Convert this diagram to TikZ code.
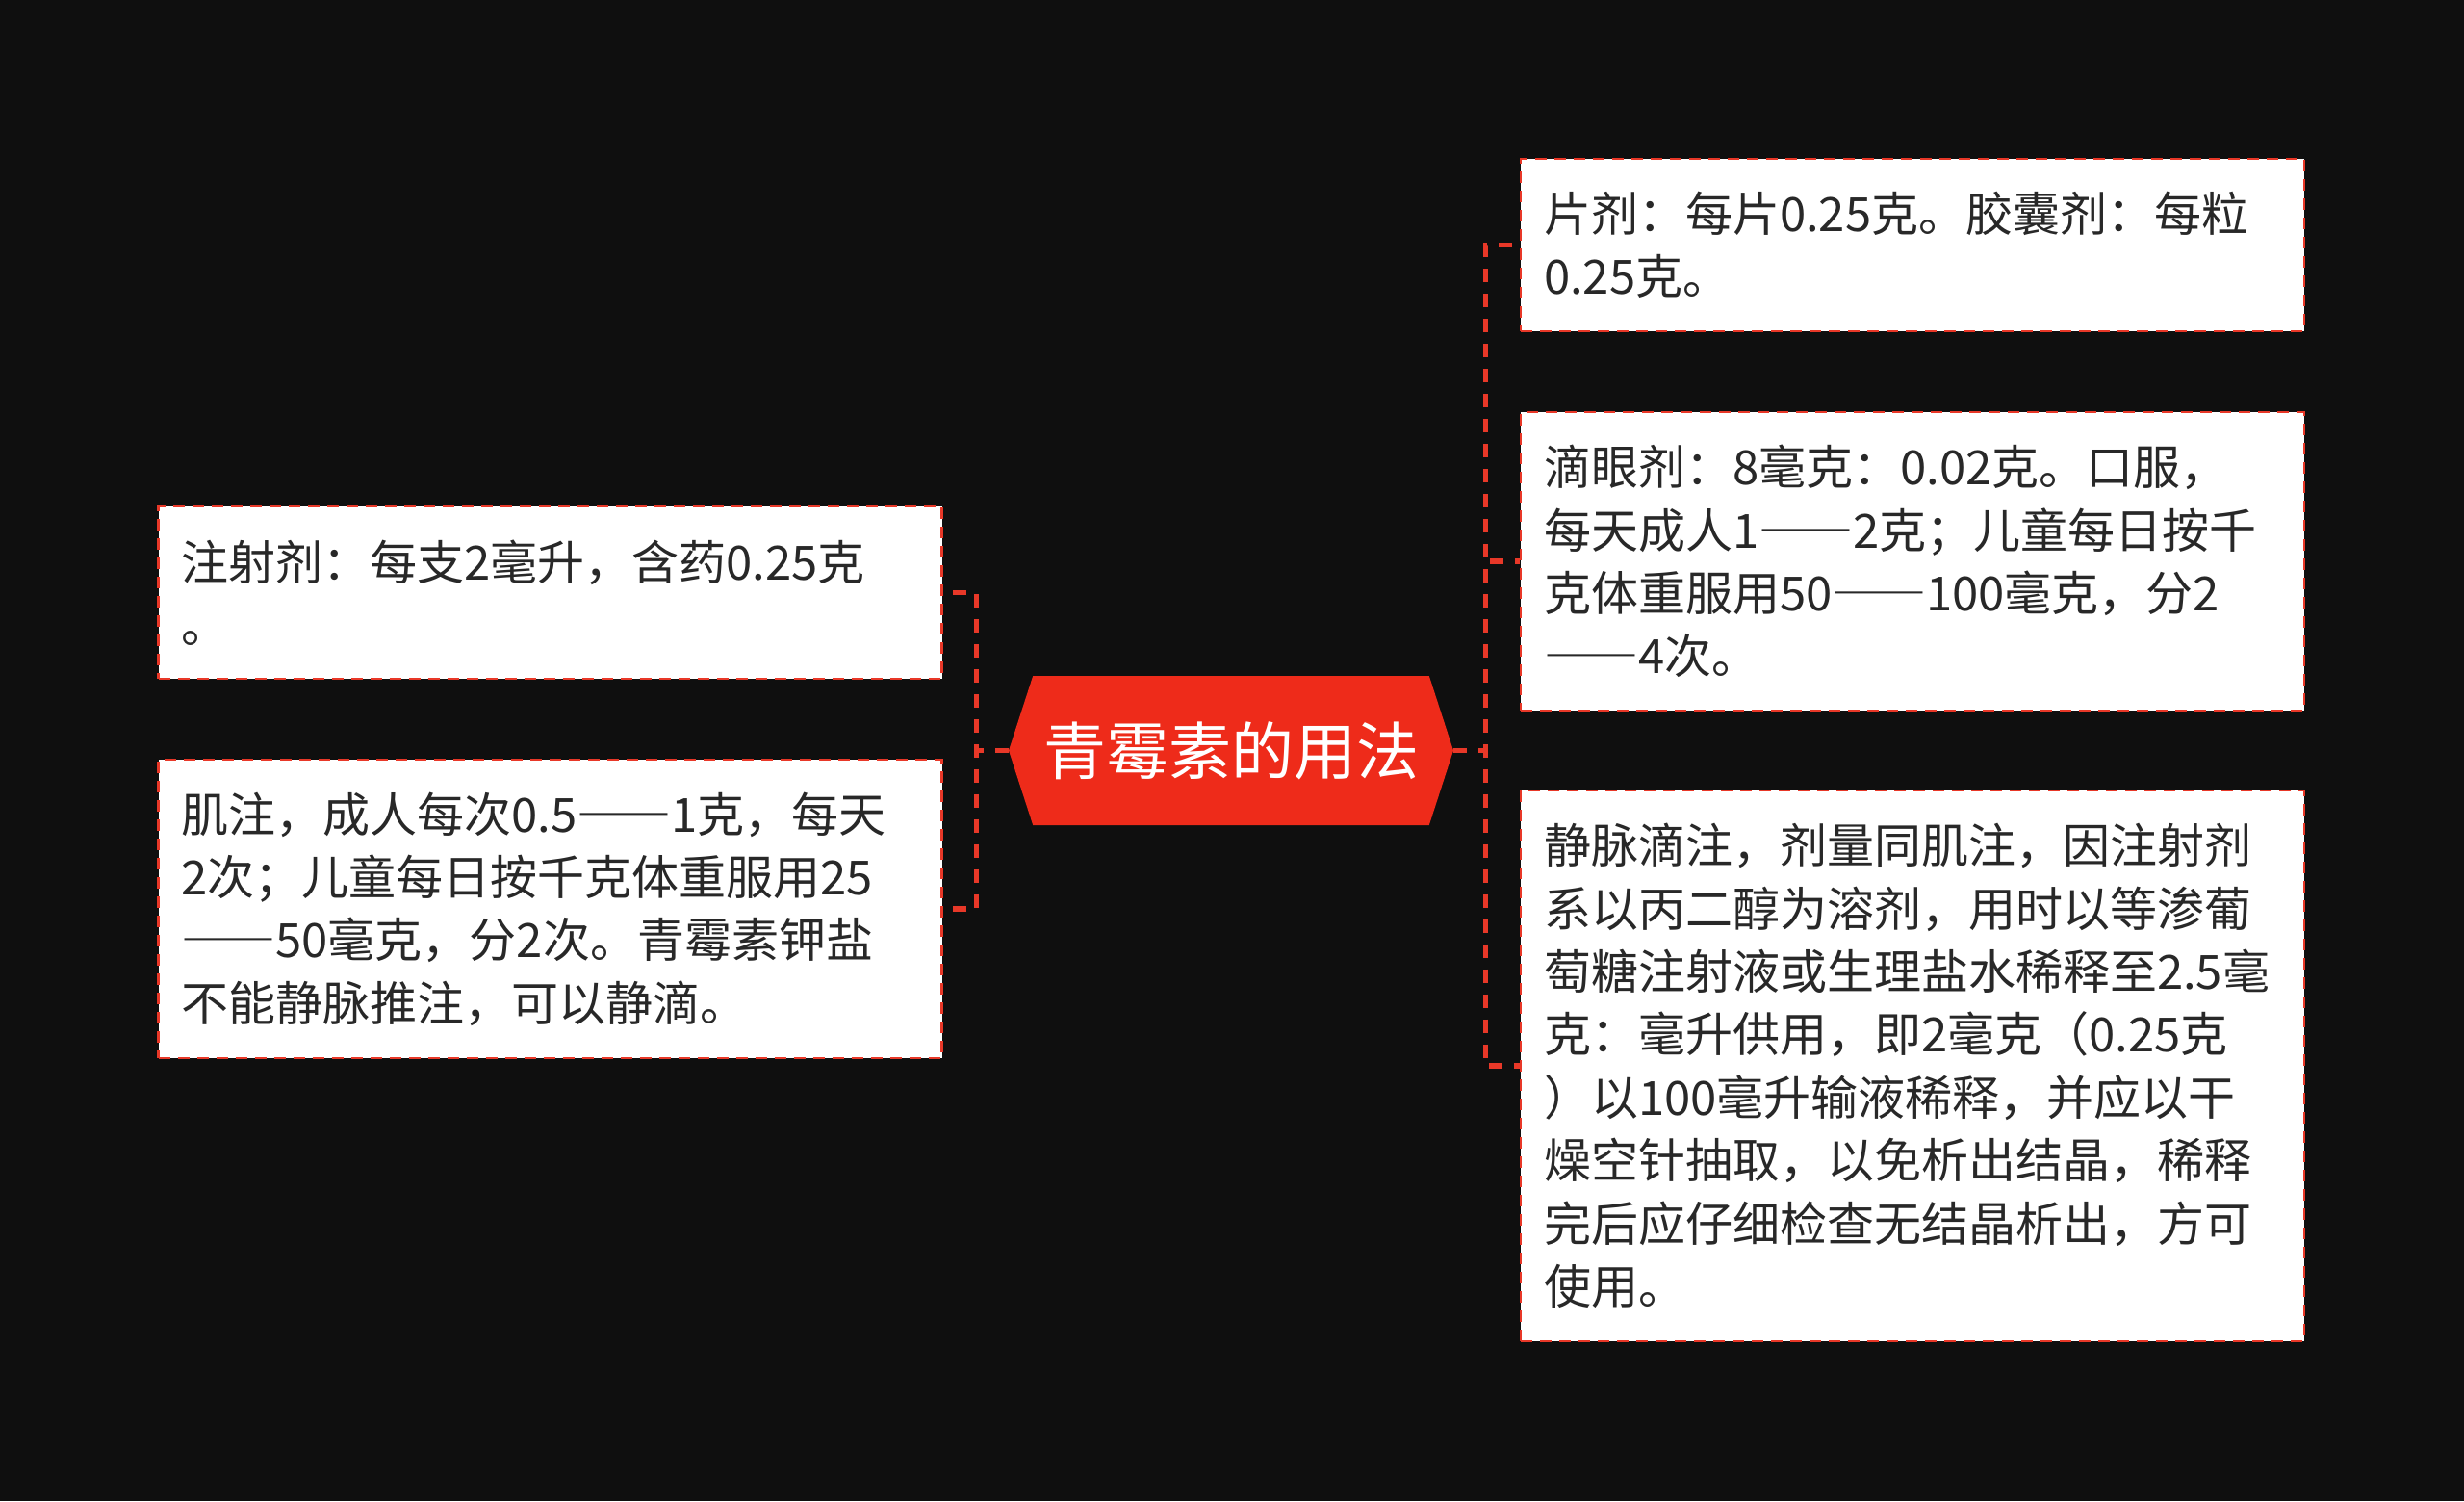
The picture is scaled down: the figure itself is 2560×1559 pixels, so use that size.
\documentclass[tikz,border=0pt]{standalone}
\usepackage{fontspec}
\usepackage{tikz}
\usetikzlibrary{shapes.symbols}
\newfontfamily\cjk{Noto Sans CJK SC}
\newfontfamily\cjkwide[RawFeature=+fwid]{Noto Sans CJK SC}
\newcommand{\longdash}{{\cjkwide ——}}
\definecolor{bgdark}{RGB}{15,15,15}
\definecolor{mapred}{RGB}{238,43,26}
\definecolor{linered}{RGB}{232,56,40}
\definecolor{leaftext}{RGB}{40,40,40}

\begin{document}
\begin{tikzpicture}[x=0.5pt,y=-0.5pt,
  root/.style={signal,signal to=west and east,signal pointer angle=144,fill=mapred,text=white,
    minimum width=231pt,minimum height=77.5pt,inner sep=0pt,font={\cjk\fontsize{32.5pt}{40pt}\selectfont}},
  leaf/.style={draw=linered,line width=1.4pt,dash pattern=on 6pt off 4pt,fill=white,text=leaftext,
    inner xsep=12pt,inner ysep=0pt,text width=383pt,align=left,
    font={\cjk\fontsize{24.5pt}{32.7pt}\selectfont}},
  link/.style={draw=linered,line width=2.8pt,dash pattern=on 7pt off 6pt}]
\fill[bgdark] (0,0) rectangle (2560,1559);
\useasboundingbox (0,0) rectangle (2560,1559);
\node [root] (c) at (1279,779.5) {青霉素的用法};
\node [leaf,minimum height=89.5pt] (l1) at (571.5,615.5) {注射剂：每支2毫升，含药0.25克\\。};
\node [leaf,minimum height=155pt] (l2) at (571.5,944) {肌注，成人每次0.5\longdash 1克，每天\\2次；儿童每日按千克体重服用25\\\longdash 50毫克，分2次。青霉素钾盐\\不能静脉推注，可以静滴。};
\node [leaf,minimum height=89.5pt] (r1) at (1987,254.5) {片剂：每片0.25克。胶囊剂：每粒\\0.25克。};
\node [leaf,minimum height=155pt] (r2) at (1987,583) {滴眼剂：8毫克：0.02克。口服，\\每天成人1\longdash 2克；儿童每日按千\\克体重服用50\longdash 100毫克，分2\\\longdash 4次。};
\node [leaf,minimum height=286pt] (r3) at (1987,1107) {静脉滴注，剂量同肌注，因注射剂\\系以丙二醇为溶剂，用时以等渗葡\\萄糖注射液或生理盐水稀释至2.5毫\\克：毫升供用，即2毫克（0.25克\\）以100毫升输液稀释，并应以干\\燥空针抽取，以免析出结晶，稀释\\完后应仔细检查无结晶析出，方可\\使用。};
\draw [link] (c.west) -- ++(-33,0) |- (l1.east);
\draw [link] (c.west) -- ++(-33,0) |- (l2.east);
\draw [link] (c.east) -- ++(33,0) |- (r1.west);
\draw [link] (c.east) -- ++(33,0) |- (r2.west);
\draw [link] (c.east) -- ++(33,0) |- (r3.west);
\end{tikzpicture}
\end{document}
